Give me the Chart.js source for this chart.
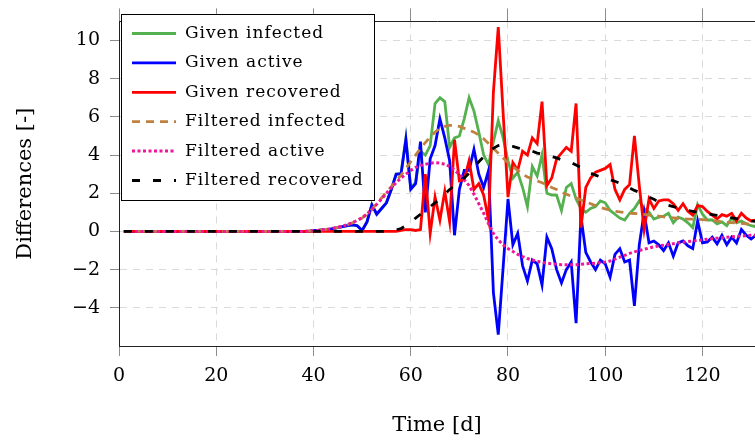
<!DOCTYPE html>
<html lang="en">
<head>
<meta charset="UTF-8">
<title>Differences over time</title>
<script src="https://cdn.jsdelivr.net/npm/chart.js"></script>
<style>
  body { margin: 0; background: #ffffff; }
  #wrap { width: 755px; height: 443px; }
</style>
</head>
<body>
<div id="wrap"><canvas id="diffChart" width="755" height="443"></canvas></div>
<script>
// daily differences, day 1 .. day 131
const firstDay = 1;

const givenInfected = [
  0, 0, 0, 0, 0, 0, 0, 0, 0, 0,
  0, 0, 0, 0, 0, 0, 0, 0, 0, 0,
  0, 0, 0, 0, 0, 0, 0, 0, 0, 0,
  0, 0, 0, 0, 0, 0, 0, 0, 0, 0.05,
  0.05, 0.1, 0.1, 0.15, 0.2, 0.25, 0.3, 0.35, 0.3, 0.05,
  0.5, 1.4, 0.9, 1.2, 1.5, 2.2, 3.0, 3.05, 4.9, 2.3,
  2.55, 4.2, 4.0, 4.5, 6.7, 7.0, 6.8, 4.4, 4.9, 5.0,
  5.9, 7.0, 6.3, 5.2, 4.0, 3.5, 4.7, 5.8, 4.9, 3.7,
  2.8, 3.1, 2.3, 1.3, 3.4, 2.9, 4.0, 2.0, 1.9, 1.9,
  1.1, 2.3, 2.5, 1.7, 1.2, 1.0, 1.2, 1.3, 1.6, 1.5,
  1.1, 0.9, 0.7, 0.6, 0.95, 1.2, 1.6, 1.2, 1.0, 0.65,
  0.75, 0.8, 0.95, 0.45, 0.75, 0.65, 0.45, 0.2, 1.4, 0.9,
  0.6, 0.6, 0.4, 0.5, 0.3, 0.7, 0.45, 0.55, 0.4, 0.3, 0.25
];

const givenActive = [
  0, 0, 0, 0, 0, 0, 0, 0, 0, 0,
  0, 0, 0, 0, 0, 0, 0, 0, 0, 0,
  0, 0, 0, 0, 0, 0, 0, 0, 0, 0,
  0, 0, 0, 0, 0, 0, 0, 0, 0, 0.05,
  0.05, 0.1, 0.1, 0.15, 0.2, 0.25, 0.3, 0.35, 0.3, 0.05,
  0.5, 1.4, 0.9, 1.2, 1.5, 2.2, 3.0, 3.0, 4.8, 2.2,
  2.5, 4.7, 1.0, 3.8, 4.5, 5.9, 4.9, 3.7, -0.2, 2.2,
  3.2, 3.2, 4.3, 3.0, 2.3, 3.2, -3.2, -5.4, -1.9, 1.7,
  -0.7, -0.1, -1.8, -2.6, -1.5, -1.7, -2.8, -0.3, -0.9, -2.0,
  -2.7, -2.0, -1.6, -4.8, 0.8, -1.1, -1.6, -2.0, -1.5, -1.7,
  -2.4, -1.2, -0.9, -1.6, -1.5, -3.9, -0.7, 1.0, -0.6, -0.5,
  -0.7, -1.0, -0.6, -1.3, -0.6, -0.5, -0.75, -0.9, 0.55, -0.6,
  -0.55, -0.3, -0.65, -0.2, -0.7, -0.3, -0.6, 0.1, -0.2, -0.4, -0.2
];

const givenRecovered = [
  0, 0, 0, 0, 0, 0, 0, 0, 0, 0,
  0, 0, 0, 0, 0, 0, 0, 0, 0, 0,
  0, 0, 0, 0, 0, 0, 0, 0, 0, 0,
  0, 0, 0, 0, 0, 0, 0, 0, 0, 0,
  0, 0, 0, 0, 0, 0, 0, 0, 0, 0,
  0, 0, 0, 0, 0, 0, 0, 0.05, 0.1, 0.1,
  0.05, 0.1, 3.0, -0.1, 1.8, 0.6, 2.1, 0.5, 4.8, 2.65,
  2.7, 3.7, 2.2, 2.5, 1.9, 0.6, 7.3, 10.7, 6.2, 1.8,
  3.6, 3.2, 4.2, 4.0, 4.9, 4.6, 6.8, 2.4, 2.8, 3.8,
  4.1, 4.4, 4.2, 6.7, 0.2, 2.3, 2.8, 3.1, 3.2, 3.3,
  3.5, 2.2, 1.65, 2.2, 2.45, 5.0, 2.4, 0.1, 1.7, 1.2,
  1.6, 1.65, 1.65, 1.45, 1.1, 1.45, 1.05, 0.85, 1.35, 1.3,
  1.05, 0.85, 0.65, 0.88, 0.8, 0.95, 0.55, 0.95, 0.7, 0.55, 0.6
];

const filteredInfected = [
  0, 0, 0, 0, 0, 0, 0, 0, 0, 0,
  0, 0, 0, 0, 0, 0, 0, 0, 0, 0,
  0, 0, 0, 0, 0, 0, 0, 0, 0, 0,
  0, 0, 0, 0, 0, 0, 0, 0, 0.02, 0.04,
  0.06, 0.09, 0.12, 0.16, 0.21, 0.27, 0.35, 0.45, 0.57, 0.7,
  0.9, 1.15, 1.45, 1.75, 2.05, 2.35, 2.65, 2.95, 3.3, 3.65,
  4.0, 4.35, 4.65, 4.95, 5.2, 5.4, 5.5, 5.55, 5.55, 5.5,
  5.4, 5.3, 5.2, 5.05, 4.85, 4.6, 4.35, 4.1, 3.85, 3.6,
  3.4, 3.2, 3.0, 2.85, 2.75, 2.65, 2.55, 2.45, 2.3, 2.2,
  2.05, 1.95, 1.85, 1.75, 1.65, 1.55, 1.45, 1.35, 1.25, 1.18,
  1.12, 1.06, 1.02, 0.99, 0.96, 0.94, 0.92, 0.89, 0.86, 0.83,
  0.8, 0.76, 0.73, 0.71, 0.69, 0.67, 0.65, 0.64, 0.63, 0.62,
  0.6, 0.57, 0.54, 0.51, 0.48, 0.46, 0.44, 0.42, 0.4, 0.38, 0.36
];

const filteredActive = [
  0, 0, 0, 0, 0, 0, 0, 0, 0, 0,
  0, 0, 0, 0, 0, 0, 0, 0, 0, 0,
  0, 0, 0, 0, 0, 0, 0, 0, 0, 0,
  0, 0, 0, 0, 0, 0, 0, 0, 0.02, 0.04,
  0.06, 0.09, 0.12, 0.17, 0.22, 0.28, 0.36, 0.46, 0.58, 0.72,
  0.92, 1.15, 1.42, 1.7, 2.0, 2.3, 2.55, 2.8, 3.0, 3.2,
  3.35, 3.45, 3.52, 3.57, 3.6, 3.58, 3.52, 3.4, 3.22, 2.98,
  2.7, 2.4, 1.95, 1.45, 0.95, 0.4, -0.1, -0.45, -0.7, -0.9,
  -1.05, -1.2, -1.32, -1.42, -1.5, -1.56, -1.62, -1.66, -1.69, -1.72,
  -1.74, -1.75, -1.75, -1.74, -1.72, -1.7, -1.68, -1.66, -1.63, -1.6,
  -1.55, -1.45, -1.35, -1.25, -1.15, -1.07, -1.0, -0.93, -0.87, -0.81,
  -0.76, -0.72, -0.68, -0.64, -0.6, -0.57, -0.53, -0.5, -0.47, -0.44,
  -0.41, -0.38, -0.35, -0.33, -0.3, -0.28, -0.26, -0.24, -0.22, -0.2, -0.19
];

const filteredRecovered = [
  0, 0, 0, 0, 0, 0, 0, 0, 0, 0,
  0, 0, 0, 0, 0, 0, 0, 0, 0, 0,
  0, 0, 0, 0, 0, 0, 0, 0, 0, 0,
  0, 0, 0, 0, 0, 0, 0, 0, 0, 0,
  0, 0, 0, 0, 0, 0, 0, 0, 0, 0,
  0, 0, 0, 0, 0, 0.02, 0.08, 0.15, 0.3, 0.5,
  0.7, 0.9, 1.1, 1.3, 1.5, 1.7, 1.95, 2.2, 2.4, 2.6,
  2.8, 3.05, 3.35, 3.65, 3.9, 4.15, 4.35, 4.5, 4.55, 4.5,
  4.45, 4.38, 4.3, 4.25, 4.2, 4.1, 4.05, 4.0, 3.92, 3.85,
  3.75, 3.68, 3.6, 3.48, 3.35, 3.2, 3.05, 2.95, 2.85, 2.78,
  2.7, 2.63, 2.52, 2.4, 2.28, 2.15, 2.05, 1.92, 1.8, 1.68,
  1.55, 1.45, 1.37, 1.3, 1.22, 1.16, 1.1, 1.05, 1.0, 0.96,
  0.92, 0.88, 0.84, 0.8, 0.75, 0.71, 0.67, 0.63, 0.59, 0.55, 0.52
];

const xTicks = [0, 20, 40, 60, 80, 100, 120];
const yTicks = [-4, -2, 0, 2, 4, 6, 8, 10];

const days = givenActive.map((_, i) => firstDay + i);

const serif = 'DejaVu Serif';

function line(label, data, color, dash, width) {
  return {
    label: label,
    data: data,
    borderColor: color,
    backgroundColor: color,
    borderWidth: width,
    borderDash: dash,
    pointRadius: 0,
    tension: 0,
    fill: false
  };
}

const datasets = [
  line('Given infected', givenInfected, '#55b14f', [], 2.8),
  line('Given active', givenActive, '#0000ff', [], 2.8),
  line('Given recovered', givenRecovered, '#ff0000', [], 2.8),
  line('Filtered infected', filteredInfected, '#bf8040', [8, 6], 2.8),
  line('Filtered active', filteredActive, '#f0169a', [3, 2.5], 3),
  line('Filtered recovered', filteredRecovered, '#000000', [8, 13], 2.8)
];
// first series lies at the bottom, last on top
datasets.forEach((d, i) => { d.order = datasets.length - i; });

// framed legend in the upper left corner of the plot
const boxLegend = {
  id: 'boxLegend',
  afterDraw(chart) {
    const ctx = chart.ctx;
    const x0 = 121.5, y0 = 14.5, w = 253, h = 186;
    ctx.save();
    ctx.fillStyle = '#ffffff';
    ctx.fillRect(x0, y0, w, h);
    ctx.strokeStyle = '#000000';
    ctx.lineWidth = 1;
    ctx.strokeRect(x0, y0, w, h);
    ctx.font = '17px "' + serif + '"';
    ctx.letterSpacing = '1px';
    ctx.textBaseline = 'middle';
    ctx.textAlign = 'left';
    chart.data.datasets.forEach((ds, i) => {
      const y = 33.5 + i * 29.4;
      ctx.beginPath();
      ctx.strokeStyle = ds.borderColor;
      ctx.lineWidth = ds.borderWidth;
      ctx.setLineDash(ds.borderDash);
      ctx.moveTo(132, y);
      ctx.lineTo(176, y);
      ctx.stroke();
      ctx.setLineDash([]);
      ctx.fillStyle = '#000000';
      ctx.fillText(ds.label, 185, y);
    });
    ctx.restore();
  }
};

const keepTicks = list => scale => {
  scale.ticks = list.map(v => ({ value: v }));
};

new Chart(document.getElementById('diffChart'), {
  type: 'line',
  data: { labels: days, datasets: datasets },
  options: {
    responsive: false,
    devicePixelRatio: 1,
    animation: false,
    layout: { padding: 0 },
    plugins: {
      legend: { display: false },
      tooltip: { enabled: false }
    },
    scales: {
      x: {
        type: 'linear',
        position: 'bottom',
        min: 0,
        max: 130.8,
        afterBuildTicks: keepTicks(xTicks),
        afterFit(scale) { scale.height = 97; },
        grid: { color: '#dadada', lineWidth: 1, tickLength: 10, tickColor: '#8c8c8c' },
        border: { color: '#222222', width: 1, dash: [7, 6] },
        ticks: {
          padding: 9,
          color: '#000000',
          font: { family: serif, size: 19 },
          maxRotation: 0
        },
        title: {
          display: true,
          text: 'Time [d]',
          color: '#000000',
          font: { family: serif, size: 21 },
          padding: { top: 0, bottom: 5 }
        }
      },
      xTop: {
        type: 'linear',
        position: 'top',
        min: 0,
        max: 130.8,
        afterBuildTicks: keepTicks(xTicks),
        afterFit(scale) { scale.height = 13; },
        grid: { drawOnChartArea: false, tickLength: 13, tickColor: '#8c8c8c' },
        border: { color: '#222222', width: 1 },
        ticks: { display: false }
      },
      y: {
        type: 'linear',
        min: -6,
        max: 11,
        afterBuildTicks: keepTicks(yTicks),
        afterFit(scale) { scale.width = 119; },
        grid: { color: '#dadada', lineWidth: 1, tickLength: 9, tickColor: '#8c8c8c' },
        border: { color: '#222222', width: 1, dash: [7, 6] },
        ticks: {
          padding: 10,
          color: '#000000',
          font: { family: serif, size: 19 },
          callback: v => (v < 0 ? '\u2212' + Math.abs(v) : String(v))
        },
        title: {
          display: true,
          text: 'Differences [-]',
          color: '#000000',
          font: { family: serif, size: 21 },
          padding: { top: 13, bottom: 0 }
        }
      }
    }
  },
  plugins: [boxLegend]
});
</script>
</body>
</html>
